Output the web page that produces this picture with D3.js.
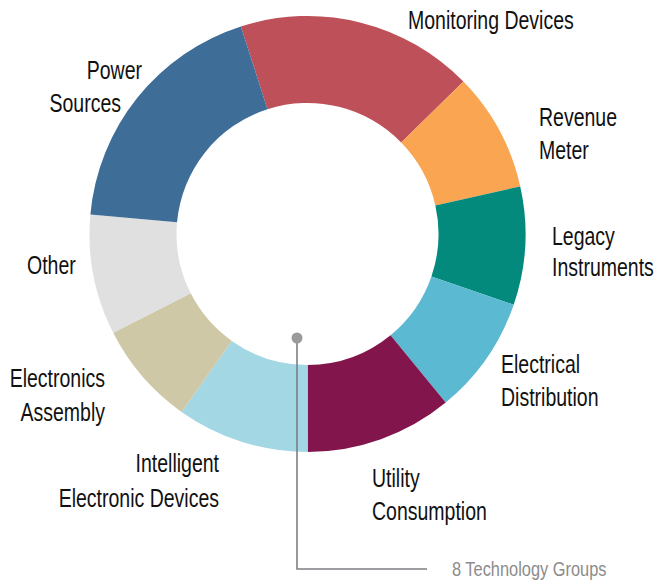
<!DOCTYPE html>
<html>

<head>
  <meta charset="UTF-8">
  <title>technology groups donut</title>
  <style>
    body { margin: 0; background: #fff; }
    text { font-family: "Liberation Sans", Arial, sans-serif; }
  </style>
</head>

<body>
  <div class="svg-zone"></div>
  <script src="https://cdn.jsdelivr.net/npm/d3@7/dist/d3.min.js"></script>
  <script type="text/javascript">
  // clockwise, starting at Monitoring Devices (top)
  const categories = ["Monitoring Devices", "Revenue Meter", "Legacy Instruments", "Electrical Distribution",
    "Utility Consumption", "Intelligent Electronic Devices", "Electronics Assembly", "Other", "Power Sources"];
  const shares = [17.6, 8.8, 8.75, 8.8, 10.9, 9.8, 7.7, 8.9, 18.6];
  const colors = ["#bd5058", "#f9a552", "#038a7c", "#5bb9d2", "#82164c", "#a4d7e4", "#cec8a7", "#e0e0e0", "#3e6d98"];
  const labelLines = [["Monitoring Devices"], ["Revenue", "Meter"], ["Legacy", "Instruments"], ["Electrical", "Distribution"],
    ["Utility", "Consumption"], ["Intelligent", "Electronic Devices"], ["Electronics", "Assembly"], ["Other"], ["Power", "Sources"]];
  const footnote = "8 Technology Groups";

  var width = 665,
    height = 582;
  var cx = 307.5, cy = 234,
    outerR = 218, innerR = 131;
  var squeeze = 0.78; // no condensed face installed, so narrow the regular one

  // hand placed label spots, one per category (x per line, baselines)
  var labelPos = [
    { anchor: "start", x: [408], y: [29] },
    { anchor: "start", x: [539, 539], y: [126, 159] },
    { anchor: "start", x: [552, 552], y: [245, 276] },
    { anchor: "start", x: [501, 501], y: [373, 406] },
    { anchor: "start", x: [372, 372], y: [487, 520] },
    { anchor: "end", x: [219, 219], y: [472, 507] },
    { anchor: "end", x: [105, 105], y: [387, 421] },
    { anchor: "start", x: [27], y: [274] },
    { anchor: "end", x: [142, 121], y: [79, 112] }
  ];

  var data = categories.map(function (c, i) {
    return { name: c, value: shares[i], color: colors[i], lines: labelLines[i], pos: labelPos[i] };
  });

  var start = -17.8 * Math.PI / 180;
  var pie = d3.pie()
    .sort(null)
    .value(function (d) { return d.value; })
    .startAngle(start)
    .endAngle(start + 2 * Math.PI);

  var arc = d3.arc()
    .innerRadius(innerR)
    .outerRadius(outerR);

  var svg = d3.select(".svg-zone").append("svg")
    .attr("width", width)
    .attr("height", height);

  svg.append("g")
    .attr("transform", "translate(" + cx + "," + cy + ")")
    .selectAll("path")
    .data(pie(data))
    .enter().append("path")
    .attr("d", arc)
    .style("fill", function (d) { return d.data.color; });

  var labels = svg.append("g").selectAll("g")
    .data(data)
    .enter().append("g");

  labels.selectAll("text")
    .data(function (d) {
      return d.lines.map(function (t, j) { return { t: t, x: d.pos.x[j], y: d.pos.y[j], anchor: d.pos.anchor }; });
    })
    .enter().append("text")
    .attr("transform", function (d) { return "translate(" + d.x + "," + d.y + ") scale(" + squeeze + ",1)"; })
    .attr("text-anchor", function (d) { return d.anchor; })
    .style("font-size", "25px")
    .style("fill", "#111")
    .text(function (d) { return d.t; });

  // leader from the centre to the footnote
  svg.append("path")
    .attr("d", "M297,338V569H427")
    .style("fill", "none")
    .style("stroke", "#7d7f84")
    .style("stroke-width", 1.6);

  svg.append("circle")
    .attr("cx", 297)
    .attr("cy", 338)
    .attr("r", 5.5)
    .style("fill", "#9a9a9a");

  svg.append("text")
    .attr("transform", "translate(452,576) scale(" + squeeze + ",1)")
    .style("font-size", "21px")
    .style("fill", "#8c8c8c")
    .text(footnote);
  </script>

</body>

</html>
